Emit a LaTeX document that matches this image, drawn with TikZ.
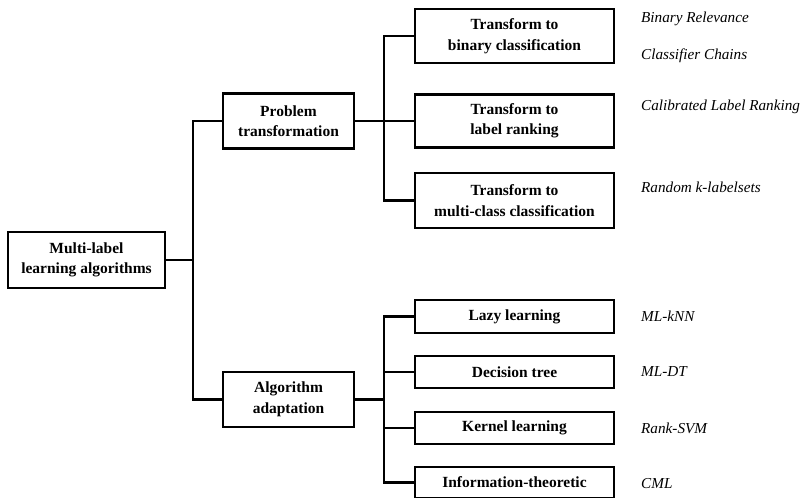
\documentclass[tikz,border=0pt]{standalone}
\usepackage{fontspec}
\setmainfont{Liberation Serif}
\begin{document}
\begin{tikzpicture}[x=1pt,y=-1pt,
  box/.style={draw=black,line width=2.8pt,rectangle,align=center,font=\fontsize{15.5}{20.5}\selectfont\bfseries,inner sep=0pt},
  lab/.style={anchor=west,font=\fontsize{15.2}{17}\selectfont\itshape,inner sep=0pt},
  conn/.style={line width=2.8pt,line cap=rect}]
\useasboundingbox (0,0) rectangle (807,498);
\node[box,minimum width=157pt,minimum height=56pt] (root) at (86.5,260) {Multi-label\\learning algorithms};
\node[box,minimum width=131pt,minimum height=55pt] (pt) at (288.5,121) {Problem\\transformation};
\node[box,minimum width=131pt,minimum height=55pt] (aa) at (288.5,399.5) {Algorithm\\adaptation};
\node[box,minimum width=199pt,minimum height=54pt] (t1) at (514.5,36) {Transform to\\binary classification};
\node[box,minimum width=199pt,minimum height=53pt] (t2) at (514.5,121) {Transform to\\label ranking};
\node[box,minimum width=199pt,minimum height=55pt] (t3) at (514.5,200.5) {Transform to\\multi-class classification};
\node[box,minimum width=199pt,minimum height=33pt] (l1) at (514.5,316.5) {Lazy learning};
\node[box,minimum width=199pt,minimum height=32pt] (l2) at (514.5,372) {Decision tree};
\node[box,minimum width=199pt,minimum height=32pt] (l3) at (514.5,428) {Kernel learning};
\node[box,minimum width=199pt,minimum height=31pt] (l4) at (514.5,482.5) {Information-theoretic};
\coordinate (s1) at (193,0);
\coordinate (s2) at (384,0);
\draw[conn] (root.east) -- (root.east -| s1);
\draw[conn] (pt.west) -- (pt.west -| s1) -- (aa.west -| s1) -- (aa.west);
\draw[conn] (pt.east) -- (pt.east -| s2);
\draw[conn] (t1.west) -- (t1.west -| s2) -- (t3.west -| s2) -- (t3.west);
\draw[conn] (t2.west -| s2) -- (t2.west);
\draw[conn] (aa.east) -- (aa.east -| s2);
\draw[conn] (l1.west) -- (l1.west -| s2) -- (l4.west -| s2) -- (l4.west);
\draw[conn] (l2.west -| s2) -- (l2.west);
\draw[conn] (l3.west -| s2) -- (l3.west);
\node[lab] (b1) at (641,19) {Binary Relevance};
\node[lab] (b2) at (641,56) {Classifier Chains};
\node[lab] (b3) at (641,107) {Calibrated Label Ranking};
\node[lab] (b4) at (641,187) {Random k-labelsets};
\node[lab] (b5) at (641,316) {ML-kNN};
\node[lab] (b6) at (641,372) {ML-DT};
\node[lab] (b7) at (641,428) {Rank-SVM};
\node[lab] (b8) at (641,484) {CML};
\end{tikzpicture}
\end{document}
